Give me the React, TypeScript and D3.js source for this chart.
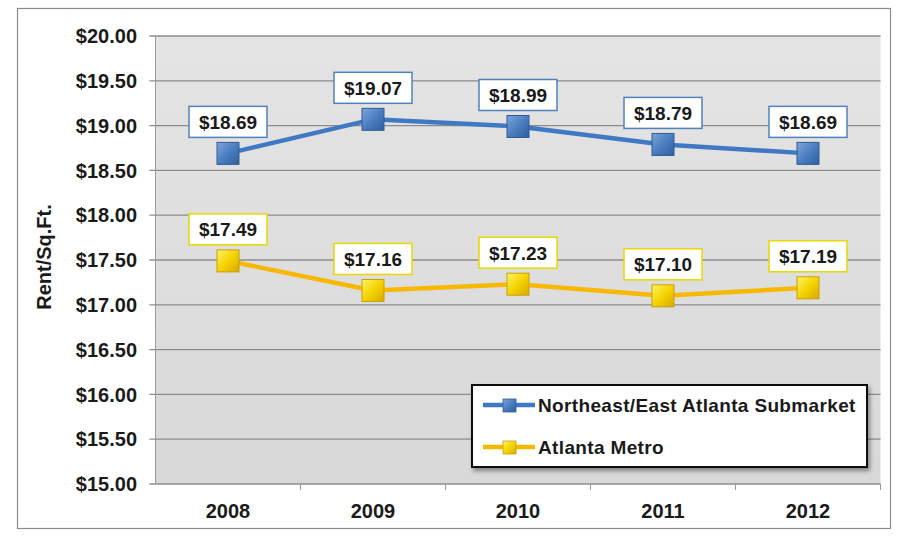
import React from "react";
import * as d3 from "d3";

const years = ["2008", "2009", "2010", "2011", "2012"];
const northeastValues = [18.69, 19.07, 18.99, 18.79, 18.69];
const metroValues = [17.49, 17.16, 17.23, 17.1, 17.19];
const yTicks = [15, 15.5, 16, 16.5, 17, 17.5, 18, 18.5, 19, 19.5, 20];
const seriesNames = ["Northeast/East Atlanta Submarket", "Atlanta Metro"];

const W = 902, H = 536;
const plot = { left: 155.5, right: 880.5, top: 36, bottom: 484 };

export default function App() {
  const x = d3.scaleBand<string>().domain(years).range([plot.left, plot.right]);
  const y = d3.scaleLinear().domain([15, 20]).range([plot.bottom, plot.top]);
  const cx = (d: string) => (x(d) ?? 0) + x.bandwidth() / 2;
  const fmt = (v: number) => "$" + d3.format(".2f")(v);
  const line = d3.line<[string, number]>().x(d => cx(d[0])).y(d => y(d[1]));

  const series = [
    { name: seriesNames[0], values: northeastValues, stroke: "#3f78c3", fillId: "gBlue", border: "#4f81bd", mEdge: "#2e5c94" },
    { name: seriesNames[1], values: metroValues, stroke: "#f8b800", fillId: "gYellow", border: "#e8d800", mEdge: "#c9a000" },
  ];
  const font = "Arial, 'Liberation Sans', Helvetica, sans-serif";

  return (
    <svg width={W} height={H} style={{ position: "absolute", left: 0, top: 0 }} fontFamily={font}>
      <defs>
        <linearGradient id="bg" x1="0" y1="0" x2="0" y2="1">
          <stop offset="0" stopColor="#e4e4e4" />
          <stop offset="1" stopColor="#d8d8d8" />
        </linearGradient>
        <linearGradient id="gBlue" x1="0" y1="0" x2="1" y2="1">
          <stop offset="0" stopColor="#7fa6d8" />
          <stop offset="0.5" stopColor="#4a7ec2" />
          <stop offset="1" stopColor="#2f5f9e" />
        </linearGradient>
        <linearGradient id="gYellow" x1="0" y1="0" x2="1" y2="1">
          <stop offset="0" stopColor="#fff36a" />
          <stop offset="0.5" stopColor="#f5d400" />
          <stop offset="1" stopColor="#d7a800" />
        </linearGradient>
        <filter id="shadow" x="-10%" y="-10%" width="130%" height="140%">
          <feDropShadow dx="2" dy="3" stdDeviation="2" floodColor="#000" floodOpacity="0.4" />
        </filter>
      </defs>
      <rect x={0} y={0} width={W} height={H} fill="#fff" />
      <rect x={17.5} y={8.5} width={873} height={520} fill="#fff" stroke="#8a8a8a" strokeWidth={1.2} />
      <rect x={plot.left} y={plot.top} width={plot.right - plot.left} height={plot.bottom - plot.top} fill="url(#bg)" />
      {yTicks.map(t => (
        <g key={t}>
          <line x1={plot.left - 6} x2={plot.right} y1={y(t)} y2={y(t)} stroke="#8c8c8c" strokeWidth={1.3} />
          <text x={137} y={y(t)} dy="0.36em" textAnchor="end" fontSize={20} fontWeight="bold" fill="#1a1a1a">{fmt(t)}</text>
        </g>
      ))}
      <line x1={plot.left} x2={plot.left} y1={plot.top} y2={plot.bottom} stroke="#9a9a9a" strokeWidth={1} />
      {years.map((yr, i) => (
        <line key={"t" + i} x1={(x(yr) ?? 0) + x.bandwidth()} x2={(x(yr) ?? 0) + x.bandwidth()} y1={plot.bottom} y2={plot.bottom + 6} stroke="#9a9a9a" />
      ))}
      {years.map(yr => (
        <text key={yr} x={cx(yr)} y={518} textAnchor="middle" fontSize={20} fontWeight="bold" fill="#1a1a1a">{yr}</text>
      ))}
      <text transform={`translate(51,257) rotate(-90)`} textAnchor="middle" fontSize={20} fontWeight="bold" fill="#1a1a1a">Rent/Sq.Ft.</text>

      {series.map(s => {
        const pts = years.map((yr, i) => [yr, s.values[i]] as [string, number]);
        return (
          <g key={s.name}>
            <path d={line(pts) ?? ""} fill="none" stroke={s.stroke} strokeWidth={4.5} strokeLinejoin="round" />
            {pts.map(p => (
              <rect key={p[0]} x={cx(p[0]) - 11} y={y(p[1]) - 11} width={22} height={22} fill={`url(#${s.fillId})`} stroke={s.mEdge} strokeWidth={1} />
            ))}
            {pts.map(p => (
              <g key={"l" + p[0]}>
                <rect x={cx(p[0]) - 39} y={y(p[1]) - 47} width={78} height={31} fill="#fff" stroke={s.border} strokeWidth={1.5} />
                <text x={cx(p[0])} y={y(p[1]) - 31.5} dy="0.36em" textAnchor="middle" fontSize={19} fontWeight="bold" fill="#1a1a1a">{fmt(p[1])}</text>
              </g>
            ))}
          </g>
        );
      })}

      <g>
        <rect x={472} y={385} width={395} height={82} fill="#fff" stroke="#111" strokeWidth={2} filter="url(#shadow)" />
        {series.map((s, i) => {
          const ly = 405 + i * 42;
          return (
            <g key={"lg" + i}>
              <line x1={483} x2={535} y1={ly} y2={ly} stroke={s.stroke} strokeWidth={4.5} />
              <rect x={503} y={ly - 6} width={13} height={13} fill={`url(#${s.fillId})`} stroke={s.mEdge} strokeWidth={0.8} />
              <text x={538} y={ly} dy="0.36em" fontSize={19} letterSpacing={0.35} fontWeight="bold" fill="#1a1a1a">{s.name}</text>
            </g>
          );
        })}
      </g>
    </svg>
  );
}
